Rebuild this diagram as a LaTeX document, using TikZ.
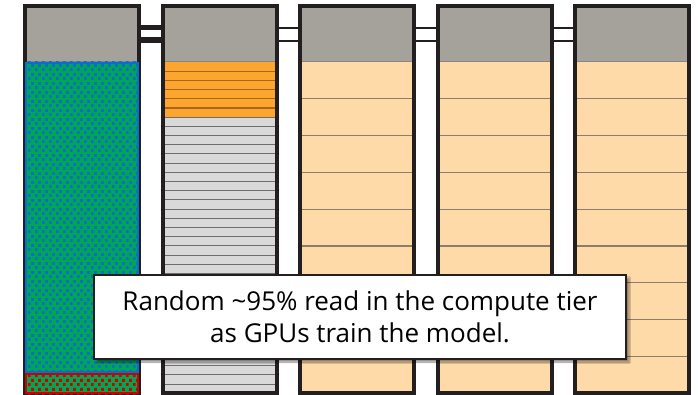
\documentclass[tikz,border=0pt]{standalone}
\usepackage{fontspec}
\newfontfamily\notafont{Open Sans}
\usetikzlibrary{patterns, shadows.blur}

\definecolor{bordo}{HTML}{231F20}
\definecolor{grigiotop}{HTML}{A5A19B}
\definecolor{lineatop}{HTML}{8A8580}
\definecolor{pesca}{HTML}{FFDAA9}
\definecolor{lineapesca}{HTML}{8C7D6C}
\definecolor{arancio}{HTML}{FCA630}
\definecolor{lineaarancio}{HTML}{A8671E}
\definecolor{grigiochiaro}{HTML}{D9D9D9}
\definecolor{lineagrigia}{HTML}{6E6E6E}
\definecolor{verde}{HTML}{00A651}
\definecolor{blu}{HTML}{0A6ED0}
\definecolor{rosso}{HTML}{D00000}

% motivo a quadretti
\pgfdeclarepatternformonly{quadretti}{\pgfpointorigin}{\pgfpoint{7pt}{9pt}}{\pgfpoint{7pt}{9pt}}{
  \pgfpathrectangle{\pgfpoint{0pt}{0pt}}{\pgfpoint{3.1pt}{3.1pt}}
  \pgfpathrectangle{\pgfpoint{3.5pt}{4.5pt}}{\pgfpoint{3.1pt}{3.1pt}}
  \pgfusepath{fill}
}

\begin{document}
\begin{tikzpicture}[x=1pt, y=-1pt,
  bordo colonna/.style={draw=bordo, line width=4pt},
  riga/.style={draw=lineapesca, line width=1.2pt},
  nota/.style={draw=bordo, fill=white, line width=1.2pt, align=center,
    minimum width=532pt, minimum height=84pt, inner sep=0pt,
    font=\notafont\fontsize{26}{32}\selectfont,
    blur shadow={shadow xshift=3pt, shadow yshift=-3pt, shadow blur steps=6, shadow opacity=45}}]
  \useasboundingbox (0,0) rectangle (698,395);

  % testate grigie
  \foreach \i in {0,...,4} {
    \pgfmathsetmacro{\L}{23+137.5*\i}
    \fill[grigiotop] (\L+2,8) rectangle (\L+116,62);
    \draw[lineatop, line width=1pt] (\L+2,62) -- (\L+116,62);
  }

  % colonne color pesca
  \foreach \i in {2,3,4} {
    \pgfmathsetmacro{\L}{23+137.5*\i}
    \fill[pesca] (\L+2,62.5) rectangle (\L+116,392);
    \foreach \k in {1,...,8}
      \draw[riga] (\L+2,62+36.8*\k) -- (\L+116,62+36.8*\k);
  }

  % colonna a strisce
  \fill[arancio] (162,62.5) rectangle (277,117.2);
  \fill[grigiochiaro] (162,117.2) rectangle (277,392);
  \foreach \k in {1,...,5}
    \draw[lineaarancio, line width=1.2pt] (162,62+9.2*\k) -- (277,62+9.2*\k);
  \foreach \k in {6,...,35}
    \draw[lineagrigia, line width=1pt] (162,62+9.2*\k) -- (277,62+9.2*\k);

  % bordi delle colonne
  \foreach \i in {0,...,4} {
    \pgfmathsetmacro{\L}{23+137.5*\i}
    \draw[bordo colonna] (\L+2,6) rectangle (\L+116,393);
  }

  % dati (verde e blu)
  \fill[verde] (25,62) rectangle (139,373);
  \fill[pattern=quadretti, pattern color=blu] (25,62) rectangle (139,373);
  \draw[blu, line width=2pt] (26,63) rectangle (138,372);

  % dati (verde e rosso)
  \fill[verde] (25,373) rectangle (139,394);
  \fill[pattern=quadretti, pattern color=rosso] (25,373) rectangle (139,394);
  \draw[rosso, line width=2.2pt] (26,374) rectangle (138,393);

  % collegamenti
  \draw[bordo, line width=5.5pt] (140,27.5) -- (162,27.5) (140,40) -- (162,40);
  \foreach \i in {1,2,3} {
    \pgfmathsetmacro{\L}{23+137.5*\i}
    \draw[bordo, line width=2pt] (\L+117,28) -- (\L+139,28) (\L+117,41) -- (\L+139,41);
  }

  % nota
  \node[nota] (testo) at (360,317)
    {Random \textasciitilde95\% read in the compute tier\\as GPUs train the model.};
\end{tikzpicture}
\end{document}
